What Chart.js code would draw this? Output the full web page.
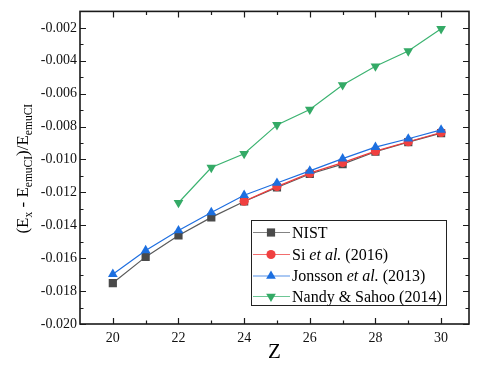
<!DOCTYPE html>
<html>
<head>
<meta charset="utf-8">
<script src="https://cdn.jsdelivr.net/npm/chart.js@4/dist/chart.umd.min.js"></script>
<style>
html,body{margin:0;padding:0;background:#fff;}
#c{display:block;}
#fw{position:absolute;left:-1000px;top:0;font-family:"Liberation Serif";font-size:16px;}
</style>
</head>
<body>
<canvas id="c" width="478" height="372"></canvas>
<span id="fw">Z 0123456789 <i>et al.</i></span>
<script>
// ---- data ----
const zValues = [20, 21, 22, 23, 24, 25, 26, 27, 28, 29, 30];
const nist    = [-0.01751, -0.01592, -0.01462, -0.01352, -0.01255, -0.01170, -0.01088, -0.01028, -0.00953, -0.00895, -0.00840];
const si2016  = [null, null, null, null, -0.01254, -0.01165, -0.01083, -0.01019, -0.00949, -0.00892, -0.00836];
const jonsson = [-0.01697, -0.01553, -0.01432, -0.01322, -0.01217, -0.01143, -0.01069, -0.00995, -0.00925, -0.00874, -0.00820];
const nandy   = [null, null, -0.01263, -0.01049, -0.00965, -0.00790, -0.00696, -0.00547, -0.00433, -0.00341, -0.00206];
const xTickLabels = [20, 22, 24, 26, 28, 30];
const yTickLabels = [-0.020, -0.018, -0.016, -0.014, -0.012, -0.010, -0.008, -0.006, -0.004, -0.002];
const seriesNames = ['NIST', 'Si et al. (2016)', 'Jonsson et al. (2013)', 'Nandy & Sahoo (2014)'];
const xTitle = 'Z';

// ---- styles ----
const SERIF = '"Liberation Serif", "DejaVu Serif", serif';
const styles = [
  {line:'#5a5a5a', fill:'#4a4a4a', style:'rect', r:5.8, rot:0},
  {line:'#ee3c3c', fill:'#f04040', style:'circle', r:4.6, rot:0},
  {line:'#1f6fe0', fill:'#1c6fe0', style:'triangle', r:5.6, rot:0},
  {line:'#3cb371', fill:'#34aa66', style:'triangle', r:5.6, rot:180}
];
const seriesData = [nist, si2016, jonsson, nandy];

function toPoints(arr){ return zValues.map((z,i)=>({x:z, y:arr[i]})); }

function drawMarker(ctx, st, x, y){
  ctx.save();
  ctx.fillStyle = st.fill;
  ctx.beginPath();
  const r = st.r;
  if (st.style === 'rect'){
    const s = Math.SQRT1_2 * r;
    ctx.rect(x - s, y - s, 2*s, 2*s);
  } else if (st.style === 'circle'){
    ctx.arc(x, y, r, 0, Math.PI*2);
  } else {
    const dir = st.rot === 180 ? -1 : 1;
    const h = Math.sqrt(3)/2 * r;
    ctx.moveTo(x, y - dir*r);
    ctx.lineTo(x + h, y + dir*r/2);
    ctx.lineTo(x - h, y + dir*r/2);
    ctx.closePath();
  }
  ctx.fill();
  ctx.restore();
}

const framePlugin = {
  id: 'frame',
  afterDatasetsDraw(chart){
    const {ctx, chartArea:a, scales:{x, y}} = chart;
    ctx.save();
    ctx.strokeStyle = '#1a1a1a';
    ctx.lineWidth = 1.2;
    ctx.beginPath();
    for (let v = 20; v <= 30; v++){
      const px = Math.round(x.getPixelForValue(v)) + 0.5;
      const L = (v % 2 === 0) ? 6 : 3.5;
      ctx.moveTo(px, a.bottom); ctx.lineTo(px, a.bottom - L);
      ctx.moveTo(px, a.top); ctx.lineTo(px, a.top + L);
    }
    for (let k = -20; k <= -1; k++){
      const py = Math.round(y.getPixelForValue(k/1000)) + 0.5;
      const L = (k % 2 === 0) ? 6 : 3.5;
      ctx.moveTo(a.left, py); ctx.lineTo(a.left + L, py);
      ctx.moveTo(a.right, py); ctx.lineTo(a.right - L, py);
    }
    ctx.stroke();
    ctx.lineWidth = 1.6;
    ctx.strokeRect(a.left, a.top, a.right - a.left, a.bottom - a.top);
    ctx.restore();
  },
  afterDraw(chart){
    const {ctx, chartArea:a} = chart;
    ctx.save();
    ctx.fillStyle = '#000';
    ctx.font = '21px ' + SERIF;
    ctx.textAlign = 'center';
    ctx.textBaseline = 'middle';
    ctx.fillText(xTitle, (a.left + a.right)/2, 352);
    ctx.translate(28, (a.top + a.bottom)/2 + 1);
    ctx.rotate(-Math.PI/2);
    ctx.textAlign = 'left';
    ctx.textBaseline = 'alphabetic';
    const parts = [['(E',0],['x',1],[' - E',0],['emuCI',1],[')/E',0],['emuCI',1]];
    const big = '17px ' + SERIF, small = '11.5px ' + SERIF;
    let total = 0;
    parts.forEach(p=>{ ctx.font = p[1] ? small : big; total += ctx.measureText(p[0]).width; });
    let cx = -total/2;
    parts.forEach(p=>{
      ctx.font = p[1] ? small : big;
      ctx.fillText(p[0], cx, p[1] ? 4 : 0);
      cx += ctx.measureText(p[0]).width;
    });
    ctx.restore();

    ctx.save();
    const bx = 251.5, by = 220.5, bw = 195, bh = 85;
    ctx.fillStyle = '#fff';
    ctx.fillRect(bx, by, bw, bh);
    ctx.strokeStyle = '#222';
    ctx.lineWidth = 1;
    ctx.strokeRect(bx, by, bw, bh);
    const rowY = [232.5, 254.5, 276, 296.5];
    seriesNames.forEach((name, i)=>{
      const yy = rowY[i];
      const st = styles[i];
      ctx.strokeStyle = st.line;
      ctx.lineWidth = 1.2;
      ctx.globalAlpha = 0.75;
      ctx.beginPath(); ctx.moveTo(253, yy); ctx.lineTo(290, yy); ctx.stroke();
      ctx.globalAlpha = 1;
      drawMarker(ctx, st, 271, yy);
      ctx.fillStyle = '#000';
      ctx.textBaseline = 'middle';
      ctx.textAlign = 'left';
      let tx = 292;
      const idx = name.indexOf('et al.');
      const segs = idx >= 0 ? [[name.slice(0, idx), false], ['et al.', true], [name.slice(idx + 6), false]] : [[name, false]];
      segs.forEach(s=>{
        ctx.font = (s[1] ? 'italic ' : '') + '16px ' + SERIF;
        ctx.fillText(s[0], tx, yy + 1);
        tx += ctx.measureText(s[0]).width;
      });
    });
    ctx.restore();
  }
};

function build(){
  const datasets = seriesData.map((arr,i)=>({
    label: seriesNames[i],
    data: toPoints(arr),
    borderColor: styles[i].line,
    backgroundColor: styles[i].fill,
    pointBackgroundColor: styles[i].fill,
    pointBorderColor: styles[i].fill,
    pointBorderWidth: 0,
    borderWidth: 1.2,
    pointStyle: styles[i].style,
    pointRadius: styles[i].r,
    pointRotation: styles[i].rot,
    spanGaps: false,
    order: 4 - i,
    tension: 0
  }));
  new Chart(document.getElementById('c'), {
    type: 'line',
    data: { datasets },
    options: {
      responsive: false,
      animation: false,
      devicePixelRatio: 1,
      layout: { padding: { top: 6, right: 9, left: 0, bottom: 0 } },
      plugins: { legend: { display: false }, tooltip: { enabled: false } },
      scales: {
        x: {
          type: 'linear',
          min: 19, max: 30.85,
          grid: { display: false, drawTicks: false },
          border: { display: false },
          afterBuildTicks: s => { s.ticks = xTickLabels.map(v => ({value: v})); },
          afterFit: s => { s.height = 48; },
          ticks: { color: '#111', font: { family: SERIF, size: 14 }, padding: 6, maxRotation: 0, callback: v => String(v) }
        },
        y: {
          type: 'linear',
          min: -0.020, max: -0.001,
          grid: { display: false, drawTicks: false },
          border: { display: false },
          afterBuildTicks: s => { s.ticks = yTickLabels.map(v => ({value: v})); },
          afterFit: s => { s.width = 80; },
          ticks: { color: '#111', font: { family: SERIF, size: 14 }, padding: 3, callback: v => Number(v).toFixed(3) }
        }
      }
    },
    plugins: [framePlugin]
  });
}

Promise.all([
  document.fonts.load('16px "Liberation Serif"'),
  document.fonts.load('italic 16px "Liberation Serif"')
]).catch(()=>{}).then(build);
</script>
</body>
</html>
